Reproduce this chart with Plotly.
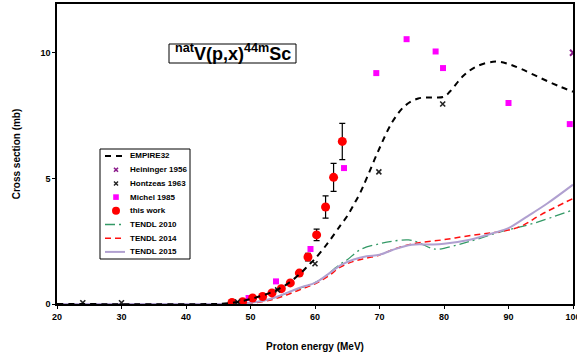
import plotly.graph_objects as go

# ---- data ----
empire_e = [20, 44, 46, 48, 50, 52, 54, 56, 58, 59, 60, 62, 64, 65, 66, 67, 68, 70, 72, 74, 76, 78, 80, 81, 83, 85, 88, 90, 92, 95, 98, 100]
empire_s = [0, 0, 0.02, 0.08, 0.2, 0.35, 0.55, 0.85, 1.28, 1.55, 1.8, 2.43, 3.15, 3.5, 3.95, 4.42, 5.0, 6.2, 7.25, 7.9, 8.18, 8.22, 8.25, 8.48, 9.08, 9.45, 9.65, 9.55, 9.35, 8.99, 8.65, 8.45]

hein_e = [100]
hein_s = [10.0]

hont_e = [24, 30, 48, 54.2, 60, 69.9, 79.8]
hont_s = [0.05, 0.05, 0.08, 0.56, 1.6, 5.26, 7.96]

michel_e = [49.7, 53.95, 59.3, 64.5, 69.5, 74.2, 78.7, 79.85, 90.0, 99.5]
michel_s = [0.24, 0.9, 2.19, 5.41, 9.19, 10.54, 10.05, 9.39, 8.0, 7.16]

work_e = [47.13, 48.78, 50.33, 51.88, 53.33, 54.78, 56.17, 57.57, 58.91, 60.25, 61.64, 62.88, 64.23]
work_s = [0.06, 0.09, 0.24, 0.30, 0.44, 0.61, 0.84, 1.23, 1.87, 2.75, 3.86, 5.04, 6.47]
work_err = [0.01, 0.01, 0.02, 0.03, 0.04, 0.05, 0.07, 0.1, 0.15, 0.23, 0.44, 0.56, 0.72]

t2010_e = [20, 46, 48, 50, 52, 54, 56, 58, 60, 61.6, 63, 64, 65, 67, 70, 72, 74.5, 76, 78, 79, 82, 84, 89, 94, 100]
t2010_s = [0, 0, 0.01, 0.05, 0.13, 0.27, 0.47, 0.66, 0.85, 1.1, 1.4, 1.6, 1.76, 2.16, 2.4, 2.5, 2.55, 2.45, 2.22, 2.18, 2.35, 2.49, 2.89, 3.22, 3.75]

t2014_e = [20, 46, 48, 50, 52, 54, 56, 58, 60, 62, 64, 66, 68, 70, 72, 75, 80, 85, 89, 92, 95, 100]
t2014_s = [0, 0, 0.01, 0.04, 0.1, 0.22, 0.4, 0.6, 0.8, 1.1, 1.48, 1.7, 1.83, 1.95, 2.16, 2.39, 2.56, 2.76, 2.89, 3.1, 3.55, 4.2]

t2015_e = [20, 46, 48, 50, 52, 54, 56, 58, 60, 62, 64, 66, 68, 70, 72, 75, 78, 80, 84, 88, 90, 93, 96, 100]
t2015_s = [0, 0, 0.01, 0.05, 0.13, 0.28, 0.48, 0.68, 0.84, 1.18, 1.55, 1.77, 1.9, 1.96, 2.15, 2.36, 2.37, 2.4, 2.56, 2.85, 3.02, 3.5, 4.0, 4.75]

x_ticks = [20, 30, 40, 50, 60, 70, 80, 90, 100]
y_ticks = [0, 5, 10]

legend_labels = ["EMPIRE32", "Heininger 1956", "Hontzeas 1963", "Michel 1985", "this work",
                 "TENDL 2010", "TENDL 2014", "TENDL 2015"]

FONT = "Liberation Sans"
W, H = 577, 360
ML, MR, MT, MB = 57, 4, 4, 56
PW, PH = W - ML - MR, H - MT - MB

C_EMP = "black"
C_HEIN = "#8a1a8a"
C_HONT = "#222222"
C_MICH = "#ff00ff"
C_WORK = "#ff0000"
C_T10 = "#339966"
C_T14 = "#ff1010"
C_T15 = "#b0a0d0"

D_EMP = "6px,5px"
D_T10 = "10px,4px,2px,4px"
D_T14 = "6px,4px"


def px(x):
    return (x - ML) / PW


def py(y):
    return (H - MB - y) / PH


fig = go.Figure()

fig.add_trace(go.Scatter(x=t2010_e, y=t2010_s, mode="lines", name="TENDL 2010",
                         line=dict(color=C_T10, width=1.3, dash=D_T10, shape="spline")))
fig.add_trace(go.Scatter(x=t2014_e, y=t2014_s, mode="lines", name="TENDL 2014",
                         line=dict(color=C_T14, width=1.5, dash=D_T14, shape="spline")))
fig.add_trace(go.Scatter(x=t2015_e, y=t2015_s, mode="lines", name="TENDL 2015",
                         line=dict(color=C_T15, width=2, shape="spline")))
fig.add_trace(go.Scatter(x=michel_e, y=michel_s, mode="markers", name="Michel 1985",
                         marker=dict(symbol="square", size=6, color=C_MICH)))
fig.add_trace(go.Scatter(x=work_e, y=work_s, mode="markers", name="this work",
                         marker=dict(symbol="circle", size=9, color=C_WORK),
                         error_y=dict(type="data", array=work_err, color="black", thickness=1.2, width=3)))
fig.add_trace(go.Scatter(x=hein_e, y=hein_s, mode="markers", name="Heininger 1956",
                         marker=dict(symbol="x-thin", size=6, line=dict(color=C_HEIN, width=2), color=C_HEIN)))
fig.add_trace(go.Scatter(x=hont_e, y=hont_s, mode="markers", name="Hontzeas 1963",
                         marker=dict(symbol="x-thin", size=5, line=dict(color=C_HONT, width=1.6), color=C_HONT)))
fig.add_trace(go.Scatter(x=empire_e, y=empire_s, mode="lines", name="EMPIRE32",
                         line=dict(color=C_EMP, width=2, dash=D_EMP, shape="spline")))

# ---- compact legend box (drawn as shapes + text) ----
shapes = []
annots = []
box_l, box_r, box_t, box_b = 100, 190, 149, 259
shapes.append(dict(type="rect", xref="paper", yref="paper", x0=px(box_l), x1=px(box_r),
                   y0=py(box_b), y1=py(box_t), line=dict(color="black", width=1), fillcolor="white",
                   layer="above"))
row0, dy = 156, 13.7
sym_l, sym_r, sym_c, txt_x = 105, 125, 116, 128
kinds = [("line", C_EMP, D_EMP, 2), ("x", C_HEIN, None, 1.6), ("x", C_HONT, None, 1.4),
         ("square", C_MICH, None, 0), ("circle", C_WORK, None, 0),
         ("line", C_T10, D_T10, 1.3), ("line", C_T14, D_T14, 1.5), ("line", C_T15, "solid", 2)]
for i, (lab, (kind, col, dash, lw)) in enumerate(zip(legend_labels, kinds)):
    yc = row0 + i * dy
    if kind == "line":
        shapes.append(dict(type="line", xref="paper", yref="paper", x0=px(sym_l), x1=px(sym_r),
                           y0=py(yc), y1=py(yc), line=dict(color=col, width=lw, dash=dash), layer="above"))
    elif kind == "x":
        s = 2
        shapes.append(dict(type="line", xref="paper", yref="paper", x0=px(sym_c - s), x1=px(sym_c + s),
                           y0=py(yc - s), y1=py(yc + s), line=dict(color=col, width=lw), layer="above"))
        shapes.append(dict(type="line", xref="paper", yref="paper", x0=px(sym_c - s), x1=px(sym_c + s),
                           y0=py(yc + s), y1=py(yc - s), line=dict(color=col, width=lw), layer="above"))
    elif kind == "square":
        s = 2.8
        shapes.append(dict(type="rect", xref="paper", yref="paper", x0=px(sym_c - s), x1=px(sym_c + s),
                           y0=py(yc + s), y1=py(yc - s), line=dict(width=0), fillcolor=col, layer="above"))
    else:
        s = 4
        shapes.append(dict(type="circle", xref="paper", yref="paper", x0=px(sym_c - s), x1=px(sym_c + s),
                           y0=py(yc + s), y1=py(yc - s), line=dict(width=0), fillcolor=col, layer="above"))
    annots.append(dict(xref="paper", yref="paper", x=px(txt_x), y=py(yc), xanchor="left", yanchor="middle",
                       text=f"<b>{lab}</b>", showarrow=False,
                       font=dict(family=FONT, size=8, color="black")))

# ---- reaction label ----
shapes.append(dict(type="rect", xref="paper", yref="paper", x0=px(169), x1=px(296),
                   y0=py(63), y1=py(44), line=dict(color="black", width=1), fillcolor="white",
                   layer="above"))
annots.append(dict(xref="paper", yref="paper", x=px(232.5), y=py(52), xanchor="center", yanchor="middle",
                   text="<b><sup>nat</sup>V(p,x)<sup>44m</sup>Sc</b>", showarrow=False,
                   font=dict(family=FONT, size=18, color="black")))

fig.update_layout(
    width=W, height=H,
    margin=dict(l=ML, r=MR, t=MT, b=MB, autoexpand=False),
    paper_bgcolor="white", plot_bgcolor="white",
    font=dict(family=FONT, size=9, color="black"),
    showlegend=False,
    shapes=shapes, annotations=annots,
    xaxis=dict(range=[20, 100], tickvals=x_ticks, ticktext=[f"<b>{v}</b>" for v in x_ticks],
               showgrid=False, zeroline=False, showline=True, linecolor="black", linewidth=1.5,
               mirror=True, ticks="outside", ticklen=3, tickcolor="black", ticklabeloverflow="allow",
               automargin=False,
               title=dict(text="<b>Proton energy (MeV)</b>", font=dict(family=FONT, size=10), standoff=22)),
    yaxis=dict(range=[0, 11.94], tickvals=y_ticks, ticktext=[f"<b>{v}</b>" for v in y_ticks],
               showgrid=False, zeroline=False, showline=True, linecolor="black", linewidth=1.5,
               mirror=True, ticks="outside", ticklen=3, tickcolor="black", automargin=False,
               title=dict(text="<b>Cross section (mb)</b>", font=dict(family=FONT, size=10), standoff=18)),
)

fig.write_html("out.html")
